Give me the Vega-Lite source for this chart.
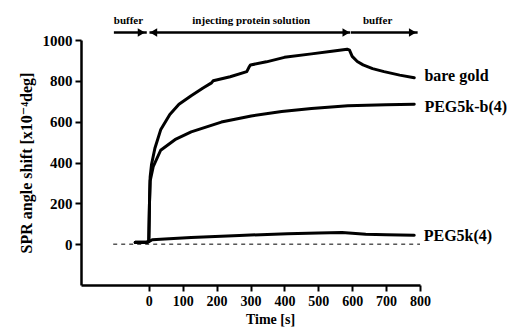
{
  "$schema": "https://vega.github.io/schema/vega-lite/v6.json",
  "width": 339,
  "height": 245,
  "autosize": {"type": "none"},
  "padding": {"left": 81, "top": 40, "right": 96, "bottom": 49},
  "background": "white",
  "config": {
    "view": {"stroke": null},
    "font": "'Liberation Serif', 'DejaVu Serif', serif",
    "text": {"font": "'Liberation Serif', 'DejaVu Serif', serif"},
    "axis": {
      "grid": false,
      "labelFont": "'Liberation Serif', 'DejaVu Serif', serif",
      "labelFontWeight": "bold",
      "labelFontSize": 15,
      "labelColor": "black",
      "labelFlush": false,
      "labelOverlap": false,
      "titleFont": "'Liberation Serif', 'DejaVu Serif', serif",
      "titleFontWeight": "bold",
      "titleFontSize": 14,
      "titleColor": "black",
      "domainColor": "black",
      "domainWidth": 2.5,
      "tickColor": "black",
      "tickWidth": 2,
      "tickSize": 6
    }
  },
  "datasets": {
    "curves": [
      {"series": "bare gold", "t": -40, "v": 10},
      {"series": "bare gold", "t": -5, "v": 10},
      {"series": "bare gold", "t": 0, "v": 15},
      {"series": "bare gold", "t": 2, "v": 200},
      {"series": "bare gold", "t": 4, "v": 330},
      {"series": "bare gold", "t": 8, "v": 390},
      {"series": "bare gold", "t": 18, "v": 470},
      {"series": "bare gold", "t": 35, "v": 560},
      {"series": "bare gold", "t": 62, "v": 635},
      {"series": "bare gold", "t": 89, "v": 685},
      {"series": "bare gold", "t": 125, "v": 727},
      {"series": "bare gold", "t": 160, "v": 765},
      {"series": "bare gold", "t": 185, "v": 790},
      {"series": "bare gold", "t": 190, "v": 800},
      {"series": "bare gold", "t": 240, "v": 820},
      {"series": "bare gold", "t": 289, "v": 845},
      {"series": "bare gold", "t": 295, "v": 865},
      {"series": "bare gold", "t": 300, "v": 878},
      {"series": "bare gold", "t": 347, "v": 893},
      {"series": "bare gold", "t": 400, "v": 915},
      {"series": "bare gold", "t": 480, "v": 932},
      {"series": "bare gold", "t": 540, "v": 945},
      {"series": "bare gold", "t": 585, "v": 955},
      {"series": "bare gold", "t": 592, "v": 950},
      {"series": "bare gold", "t": 600, "v": 920},
      {"series": "bare gold", "t": 615, "v": 895},
      {"series": "bare gold", "t": 632, "v": 878},
      {"series": "bare gold", "t": 660, "v": 860},
      {"series": "bare gold", "t": 694, "v": 845},
      {"series": "bare gold", "t": 740, "v": 828},
      {"series": "bare gold", "t": 783, "v": 815},
      {"series": "PEG5k-b(4)", "t": -40, "v": 10},
      {"series": "PEG5k-b(4)", "t": -5, "v": 10},
      {"series": "PEG5k-b(4)", "t": 0, "v": 15},
      {"series": "PEG5k-b(4)", "t": 2, "v": 200},
      {"series": "PEG5k-b(4)", "t": 4, "v": 310},
      {"series": "PEG5k-b(4)", "t": 13, "v": 380},
      {"series": "PEG5k-b(4)", "t": 35, "v": 460},
      {"series": "PEG5k-b(4)", "t": 80, "v": 515},
      {"series": "PEG5k-b(4)", "t": 125, "v": 550},
      {"series": "PEG5k-b(4)", "t": 214, "v": 598},
      {"series": "PEG5k-b(4)", "t": 302, "v": 628},
      {"series": "PEG5k-b(4)", "t": 392, "v": 650},
      {"series": "PEG5k-b(4)", "t": 480, "v": 665},
      {"series": "PEG5k-b(4)", "t": 587, "v": 678},
      {"series": "PEG5k-b(4)", "t": 700, "v": 683},
      {"series": "PEG5k-b(4)", "t": 783, "v": 685},
      {"series": "PEG5k(4)", "t": -40, "v": 8},
      {"series": "PEG5k(4)", "t": -5, "v": 8},
      {"series": "PEG5k(4)", "t": 0, "v": 12},
      {"series": "PEG5k(4)", "t": 10, "v": 22},
      {"series": "PEG5k(4)", "t": 60, "v": 27},
      {"series": "PEG5k(4)", "t": 125, "v": 33},
      {"series": "PEG5k(4)", "t": 267, "v": 43},
      {"series": "PEG5k(4)", "t": 409, "v": 51},
      {"series": "PEG5k(4)", "t": 500, "v": 55},
      {"series": "PEG5k(4)", "t": 570, "v": 57},
      {"series": "PEG5k(4)", "t": 600, "v": 53},
      {"series": "PEG5k(4)", "t": 640, "v": 49},
      {"series": "PEG5k(4)", "t": 700, "v": 46},
      {"series": "PEG5k(4)", "t": 783, "v": 44}
    ],
    "labels": [
      {"text": "bare gold", "t": 813, "v": 822},
      {"text": "PEG5k-b(4)", "t": 813, "v": 672},
      {"text": "PEG5k(4)", "t": 811, "v": 42}
    ],
    "phases": [
      {"text": "buffer", "t": -60, "v": 1095},
      {"text": "injecting protein solution", "t": 302, "v": 1095},
      {"text": "buffer", "t": 675, "v": 1095}
    ],
    "arrows": [
      {"t1": -103, "t2": -6, "v": 1037},
      {"t1": 2, "t2": 594, "v": 1037},
      {"t1": 596, "t2": 793, "v": 1037}
    ],
    "heads": [
      {"t": -22, "v": 1037, "dir": "triangle-right"},
      {"t": 14, "v": 1037, "dir": "triangle-left"},
      {"t": 582, "v": 1037, "dir": "triangle-right"},
      {"t": 778, "v": 1037, "dir": "triangle-right"}
    ],
    "zero": [{"t1": -105, "t2": 800, "v": 0}]
  },
  "layer": [
    {
      "data": {"name": "zero"},
      "mark": {"type": "rule", "strokeDash": [4, 4], "strokeWidth": 1, "color": "black"},
      "encoding": {
        "x": {"field": "t1", "type": "quantitative", "scale": {"domain": [-105, 800]},
              "axis": {"values": [0, 100, 200, 300, 400, 500, 600, 700, 800], "format": "d", "labelFontSize": 14, "title": "Time [s]", "titleX": 189, "titlePadding": 4, "labelPadding": 3}},
        "x2": {"field": "t2"},
        "y": {"field": "v", "type": "quantitative", "scale": {"domain": [-180, 1000]},
              "axis": {"values": [0, 200, 400, 600, 800, 1000], "format": "d", "title": "SPR angle shift [x10⁻⁴deg]", "titleFontSize": 16, "titlePadding": 8, "labelPadding": 3}}
      }
    },
    {
      "data": {"name": "curves"},
      "mark": {"type": "line", "strokeWidth": 3, "color": "black", "strokeJoin": "round", "strokeCap": "round"},
      "encoding": {
        "x": {"field": "t", "type": "quantitative"},
        "y": {"field": "v", "type": "quantitative"},
        "detail": {"field": "series"},
        "order": {"field": "t"}
      }
    },
    {
      "data": {"name": "labels"},
      "mark": {"type": "text", "align": "left", "baseline": "middle", "font": "'Liberation Serif', 'DejaVu Serif', serif", "fontWeight": "bold", "fontSize": 16, "color": "black"},
      "encoding": {
        "x": {"field": "t", "type": "quantitative"},
        "y": {"field": "v", "type": "quantitative"},
        "text": {"field": "text"}
      }
    },
    {
      "data": {"name": "phases"},
      "mark": {"type": "text", "align": "center", "baseline": "middle", "font": "'Liberation Serif', 'DejaVu Serif', serif", "fontWeight": "bold", "fontSize": 11, "color": "black"},
      "encoding": {
        "x": {"field": "t", "type": "quantitative"},
        "y": {"field": "v", "type": "quantitative"},
        "text": {"field": "text"}
      }
    },
    {
      "data": {"name": "arrows"},
      "mark": {"type": "rule", "strokeWidth": 2.5, "color": "black"},
      "encoding": {
        "x": {"field": "t1", "type": "quantitative"},
        "x2": {"field": "t2"},
        "y": {"field": "v", "type": "quantitative"}
      }
    },
    {
      "data": {"name": "heads"},
      "mark": {"type": "point", "filled": true, "color": "black", "opacity": 1, "size": 70},
      "encoding": {
        "x": {"field": "t", "type": "quantitative"},
        "y": {"field": "v", "type": "quantitative"},
        "shape": {"field": "dir", "type": "nominal", "scale": {"domain": ["triangle-right", "triangle-left"], "range": ["triangle-right", "triangle-left"]}, "legend": null}
      }
    }
  ]
}
